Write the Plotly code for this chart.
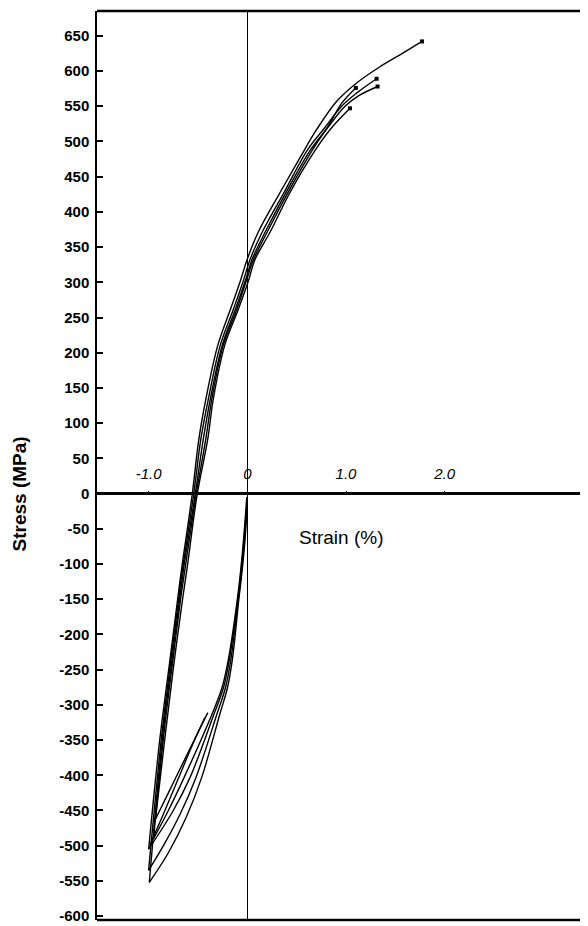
import plotly.graph_objects as go

# ---- data (strain %, stress MPa) ----
# tension-loading branches (from compressive tip to tensile tip)
u1_strain = [-1.0, -0.885, -0.79, -0.705, -0.665, -0.56, -0.49, -0.42, -0.30, -0.17, -0.075, 0.0, 0.11, 0.33, 0.534, 0.703, 0.906, 1.108, 1.344, 1.547, 1.77]
u1_stress = [-505, -347, -243, -149, -106, -3, 78, 134, 210, 262, 300, 333, 371, 427, 477, 517, 557, 583, 606, 623, 642]
u2_strain = [-1.0, -0.87, -0.78, -0.695, -0.655, -0.545, -0.47, -0.395, -0.275, -0.14, -0.045, 0.03, 0.15, 0.37, 0.61, 0.77, 0.97, 1.12, 1.31]
u2_stress = [-535, -347, -243, -149, -106, -3, 78, 134, 210, 262, 300, 333, 371, 427, 488, 517, 552, 570, 589]
u3_strain = [-0.993, -0.86, -0.77, -0.685, -0.645, -0.53, -0.445, -0.375, -0.255, -0.12, -0.025, 0.05, 0.18, 0.39, 0.64, 0.80, 0.99, 1.13, 1.32]
u3_stress = [-552, -347, -243, -149, -106, -3, 78, 134, 210, 262, 300, 333, 371, 427, 488, 517, 550, 565, 578]
u4_strain = [-0.95, -0.85, -0.76, -0.675, -0.63, -0.52, -0.42, -0.36, -0.245, -0.105, -0.015, 0.065, 0.20, 0.41, 0.66, 0.82, 0.96, 1.10]
u4_stress = [-490, -347, -243, -149, -106, -3, 78, 134, 210, 262, 300, 333, 371, 427, 488, 522, 555, 576]
u5_strain = [-0.93, -0.835, -0.745, -0.655, -0.61, -0.51, -0.40, -0.345, -0.23, -0.09, 0.007, 0.08, 0.23, 0.43, 0.69, 0.84, 1.04]
u5_stress = [-462, -347, -243, -149, -106, -3, 78, 134, 210, 262, 300, 333, 371, 427, 488, 517, 547]

# compression-loading branches (from zero strain to compressive tip)
l1_strain = [0.0, -0.02, -0.05, -0.085, -0.15, -0.20, -0.28, -0.462, -0.62, -0.80, -0.993]
l1_stress = [-5, -60, -106, -149, -234, -275, -314, -403, -460, -510, -552]
l2_strain = [0.0, -0.025, -0.055, -0.09, -0.165, -0.22, -0.31, -0.52, -0.68, -0.85, -1.0]
l2_stress = [-5, -60, -106, -149, -234, -275, -314, -403, -455, -500, -535]
l3_strain = [0.0, -0.03, -0.06, -0.095, -0.18, -0.24, -0.34, -0.58, -0.75, -1.0]
l3_stress = [-5, -60, -106, -149, -234, -275, -314, -403, -450, -505]
l4_strain = [-0.005, -0.035, -0.065, -0.10, -0.19, -0.255, -0.36, -0.64, -0.80, -0.95]
l4_stress = [-5, -60, -106, -149, -234, -275, -314, -403, -450, -490]
# short partial branches
s1_strain = [-0.93, -0.80, -0.65, -0.52, -0.40]
s1_stress = [-462, -425, -382, -345, -311]
s2_strain = [-0.99, -0.85, -0.70, -0.55, -0.43]
s2_stress = [-500, -455, -405, -355, -318]

y_ticks = [650, 600, 550, 500, 450, 400, 350, 300, 250, 200, 150, 100, 50, 0,
           -50, -100, -150, -200, -250, -300, -350, -400, -450, -500, -550, -600]
y_tick_text = [str(v) if v >= 0 else "-" + str(-v) for v in y_ticks]
x_ticks = [-1.0, 0.0, 1.0, 2.0]
x_tick_text = ["-1.0", "0", "1.0", "2.0"]

FONT = "Liberation Sans, Arial, sans-serif"
LINE = dict(color="black", width=1.4)

fig = go.Figure()
curves = [(u1_strain, u1_stress), (u2_strain, u2_stress), (u3_strain, u3_stress),
          (u4_strain, u4_stress), (u5_strain, u5_stress),
          (l1_strain, l1_stress), (l2_strain, l2_stress), (l3_strain, l3_stress),
          (l4_strain, l4_stress), (s1_strain, s1_stress), (s2_strain, s2_stress)]
for xs, ys in curves:
    fig.add_trace(go.Scatter(x=xs, y=ys, mode="lines",
                             line=dict(shape="spline", smoothing=1.0, **LINE),
                             showlegend=False, hoverinfo="skip"))

tips = [(u1_strain, u1_stress), (u2_strain, u2_stress), (u3_strain, u3_stress),
        (u4_strain, u4_stress), (u5_strain, u5_stress)]
fig.add_trace(go.Scatter(x=[t[0][-1] for t in tips], y=[t[1][-1] for t in tips], mode="markers",
                         marker=dict(symbol="square", size=4, color="black"),
                         showlegend=False, hoverinfo="skip"))

y_lo, y_hi = -605.5, 685.2
x_lo, x_hi = -1.523, 3.452

# the page body adds an 8 px margin, so the figure is 8 px smaller each way
fig.update_layout(
    width=580, height=918,
    margin=dict(l=89, r=0, t=3, b=6),
    paper_bgcolor="white", plot_bgcolor="white",
    font=dict(family=FONT, color="black"),
    xaxis=dict(range=[x_lo, x_hi], anchor="free", position=(0 - y_lo) / (y_hi - y_lo), side="top",
               showline=False, showgrid=False, zeroline=True, zerolinecolor="black", zerolinewidth=1,
               tickvals=x_ticks, ticktext=x_tick_text, ticks="outside", ticklen=3, tickcolor="black",
               ticklabelstandoff=6,
               tickfont=dict(family=FONT, size=15, color="black", style="italic")),
    yaxis=dict(range=[y_lo, y_hi], showline=True, linecolor="black", linewidth=1.5,
               showgrid=False, zeroline=True, zerolinecolor="black", zerolinewidth=2.5,
               tickvals=y_ticks, ticktext=y_tick_text, ticks="inside", ticklen=6, tickwidth=2,
               tickcolor="black", ticklabelstandoff=3, ticklabeloverflow="allow",
               tickfont=dict(family=FONT, size=15, color="black", weight="bold")),
    shapes=[
        dict(type="line", xref="paper", yref="paper", x0=0, x1=1, y0=1, y1=1,
             line=dict(color="black", width=2.5)),
        dict(type="line", xref="paper", yref="paper", x0=0, x1=1, y0=0, y1=0,
             line=dict(color="black", width=2.5)),
    ],
    annotations=[
        dict(text="Strain (%)", x=0.95, y=-62, xref="x", yref="y", showarrow=False,
             xanchor="center", yanchor="middle", font=dict(family=FONT, size=19, color="black")),
        dict(text="Stress (MPa)", x=-0.157, y=0, xref="paper", yref="y", showarrow=False,
             textangle=-90, xanchor="center", yanchor="middle",
             font=dict(family=FONT, size=19, color="black", weight="bold")),
    ],
)

fig.write_html("out.html")
